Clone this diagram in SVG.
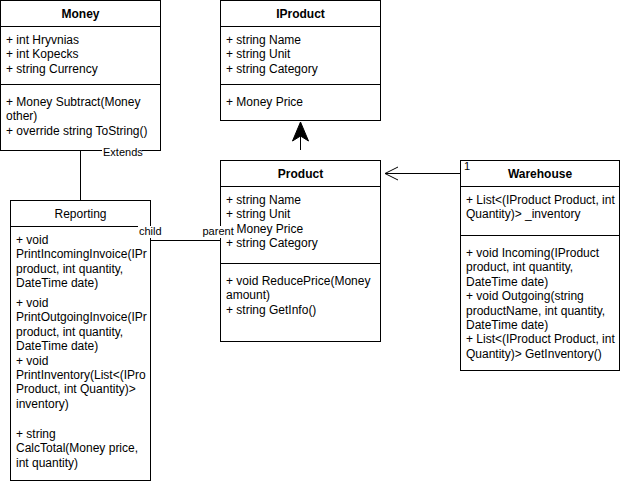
<svg xmlns="http://www.w3.org/2000/svg" width="621" height="484" viewBox="0 0 621 484">
  <defs>
    <style>
      .box { fill: #ffffff; stroke: #000000; stroke-width: 1; }
      .sep { stroke: #000000; stroke-width: 1; fill: none; }
      .title { font-family: "Liberation Sans", Arial, sans-serif; font-size: 12px; font-weight: bold; text-anchor: middle; fill: #000000; }
      .title-plain { font-family: "Liberation Sans", Arial, sans-serif; font-size: 12px; text-anchor: middle; fill: #000000; }
      .member { font-family: "Liberation Sans", Arial, sans-serif; font-size: 12px; fill: #000000; }
      .edge { stroke: #000000; stroke-width: 1; fill: none; }
      .elabel { font-family: "Liberation Sans", Arial, sans-serif; font-size: 11px; fill: #000000; }
      .lblbg { fill: #ffffff; stroke: none; }
    </style>
    <clipPath id="reportingClip">
      <rect x="11" y="201" width="139" height="279"/>
    </clipPath>
  </defs>

  <!-- Money class -->
  <g id="money">
    <rect class="box" x="0.5" y="0.5" width="160" height="150"/>
    <line class="sep" x1="0.5" y1="26.5" x2="160.5" y2="26.5"/>
    <line class="sep" x1="0.5" y1="84.5" x2="160.5" y2="84.5"/>
    <text class="title" x="80.5" y="18">Money</text>
    <text class="member" x="6" y="44">+ int Hryvnias</text>
    <text class="member" x="6" y="58.4">+ int Kopecks</text>
    <text class="member" x="6" y="72.8">+ string Currency</text>
    <text class="member" x="6" y="106">+ Money Subtract(Money</text>
    <text class="member" x="6" y="120.4">other)</text>
    <text class="member" x="6" y="134.8">+ override string ToString()</text>
  </g>

  <!-- IProduct interface -->
  <g id="iproduct">
    <rect class="box" x="220.5" y="0.5" width="160" height="120"/>
    <line class="sep" x1="220.5" y1="26.5" x2="380.5" y2="26.5"/>
    <line class="sep" x1="220.5" y1="84.5" x2="380.5" y2="84.5"/>
    <text class="title" x="300.5" y="18">IProduct</text>
    <text class="member" x="226" y="44">+ string Name</text>
    <text class="member" x="226" y="58.4">+ string Unit</text>
    <text class="member" x="226" y="72.8">+ string Category</text>
    <text class="member" x="226" y="106">+ Money Price</text>
  </g>

  <!-- Product class -->
  <g id="product">
    <rect class="box" x="220.5" y="160.5" width="160" height="181"/>
    <line class="sep" x1="220.5" y1="186.5" x2="380.5" y2="186.5"/>
    <line class="sep" x1="220.5" y1="263.5" x2="380.5" y2="263.5"/>
    <text class="title" x="300.5" y="178">Product</text>
    <text class="member" x="226" y="204">+ string Name</text>
    <text class="member" x="226" y="218.4">+ string Unit</text>
    <text class="member" x="236.5" y="232.8">Money Price</text>
    <text class="member" x="226" y="247.2">+ string Category</text>
    <text class="member" x="226" y="285">+ void ReducePrice(Money</text>
    <text class="member" x="226" y="299.4">amount)</text>
    <text class="member" x="226" y="313.8">+ string GetInfo()</text>
  </g>

  <!-- Warehouse class -->
  <g id="warehouse">
    <rect class="box" x="460.5" y="160.5" width="159" height="210"/>
    <line class="sep" x1="460.5" y1="186.5" x2="619.5" y2="186.5"/>
    <line class="sep" x1="460.5" y1="235.5" x2="619.5" y2="235.5"/>
    <text class="title" x="540" y="178">Warehouse</text>
    <text class="member" x="466" y="204">+ List&lt;(IProduct Product, int</text>
    <text class="member" x="466" y="218.4">Quantity)&gt; _inventory</text>
    <text class="member" x="466" y="257">+ void Incoming(IProduct</text>
    <text class="member" x="466" y="271.4">product, int quantity,</text>
    <text class="member" x="466" y="285.8">DateTime date)</text>
    <text class="member" x="466" y="300.2">+ void Outgoing(string</text>
    <text class="member" x="466" y="314.6">productName, int quantity,</text>
    <text class="member" x="466" y="329">DateTime date)</text>
    <text class="member" x="466" y="343.4">+ List&lt;(IProduct Product, int</text>
    <text class="member" x="466" y="357.8">Quantity)&gt; GetInventory()</text>
  </g>

  <!-- Reporting class -->
  <g id="reporting">
    <rect class="box" x="10.5" y="200.5" width="140" height="280"/>
    <line class="sep" x1="10.5" y1="226.5" x2="150.5" y2="226.5"/>
    <text class="title-plain" x="80.5" y="218">Reporting</text>
    <g clip-path="url(#reportingClip)">
      <text class="member" x="16" y="244">+ void</text>
      <text class="member" x="16" y="258.4">PrintIncomingInvoice(IPr</text>
      <text class="member" x="16" y="272.8">product, int quantity,</text>
      <text class="member" x="16" y="287.2">DateTime date)</text>
      <text class="member" x="16" y="307">+ void</text>
      <text class="member" x="16" y="321.4">PrintOutgoingInvoice(IPr</text>
      <text class="member" x="16" y="335.8">product, int quantity,</text>
      <text class="member" x="16" y="350.2">DateTime date)</text>
      <text class="member" x="16" y="364.6">+ void</text>
      <text class="member" x="16" y="379">PrintInventory(List&lt;(IPro</text>
      <text class="member" x="16" y="393.4">Product, int Quantity)&gt;</text>
      <text class="member" x="16" y="407.8">inventory)</text>
      <text class="member" x="16" y="438">+ string</text>
      <text class="member" x="16" y="452.4">CalcTotal(Money price,</text>
      <text class="member" x="16" y="466.8">int quantity)</text>
    </g>
  </g>

  <!-- Connectors -->
  <g id="connectors">
    <!-- Money - Reporting -->
    <line class="edge" x1="80.5" y1="150.5" x2="80.5" y2="200.5"/>
    <rect class="lblbg" x="102" y="146" width="40" height="13"/>
    <text class="elabel" x="103" y="156">Extends</text>

    <!-- Product realizes IProduct -->
    <line class="edge" x1="300.5" y1="150" x2="300.5" y2="135"/>
    <path d="M300.5,122 L308.5,141 L300.5,136 L292.5,141 Z" fill="#000000" stroke="#000000" stroke-width="1" stroke-linejoin="miter"/>

    <!-- Warehouse -> Product -->
    <line class="edge" x1="460.5" y1="173.5" x2="385" y2="173.5"/>
    <polyline class="edge" points="398,167 385,173.5 398,180"/>
    <text class="elabel" x="464" y="170">1</text>

    <!-- Reporting - Product -->
    <line class="edge" x1="150.5" y1="240.5" x2="220.5" y2="240.5"/>
    <rect class="lblbg" x="138" y="226" width="24" height="12"/>
    <text class="elabel" x="139" y="235">child</text>
    <rect class="lblbg" x="202" y="226" width="31" height="12"/>
    <text class="elabel" x="202.5" y="235">parent</text>
  </g>
</svg>
